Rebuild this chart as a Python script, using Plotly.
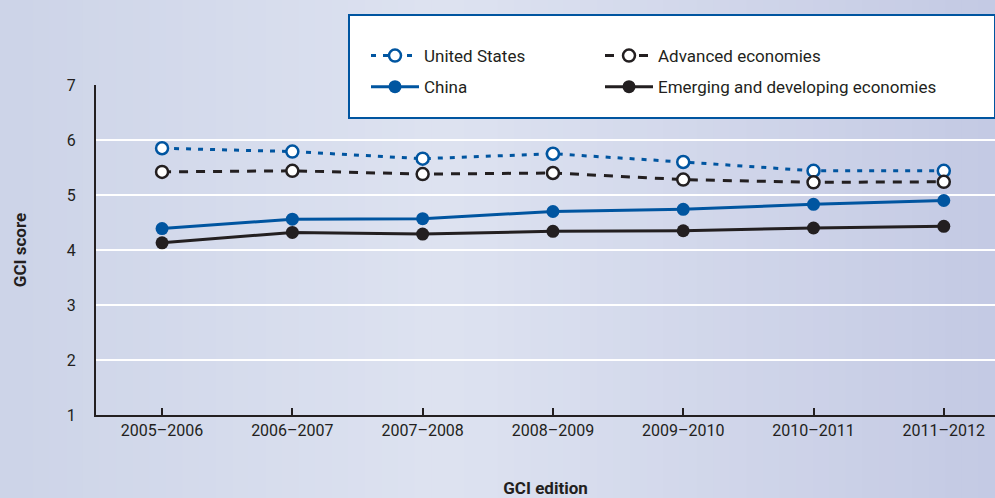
import plotly.graph_objects as go

editions = ["2005–2006", "2006–2007", "2007–2008", "2008–2009",
            "2009–2010", "2010–2011", "2011–2012"]
united_states = [5.85, 5.79, 5.66, 5.75, 5.60, 5.44, 5.44]
advanced = [5.42, 5.44, 5.38, 5.40, 5.28, 5.23, 5.24]
china = [4.39, 4.56, 4.57, 4.70, 4.74, 4.83, 4.90]
emerging = [4.13, 4.32, 4.29, 4.34, 4.35, 4.40, 4.43]
y_ticks = [1, 2, 3, 4, 5, 6, 7]

BLUE = "#0055a0"
BLACK = "#231f20"
FONT = "Liberation Sans Narrow, Roboto, Arial, sans-serif"

fig = go.Figure()


def add_line(name, values, color, dash, hollow, legend, group):
    fig.add_trace(go.Scatter(
        x=editions, y=values, name=name, mode="lines+markers",
        line=dict(color=color, width=3, dash=dash),
        marker=dict(size=12 if hollow else 13,
                    color="white" if hollow else color,
                    line=dict(color=color, width=2.5 if hollow else 0)),
        legend=legend, legendgroup=group,
    ))


add_line("United States", united_states, BLUE, "5px,7px", True, "legend", "a")
add_line("China", china, BLUE, "solid", False, "legend", "b")
add_line("Advanced economies", advanced, BLACK, "9px,8px", True, "legend2", "c")
add_line("Emerging and developing economies", emerging, BLACK, "solid", False,
         "legend2", "d")

# soft horizontal background gradient
n = 60
left, mid, right = (205, 212, 232), (222, 227, 241), (196, 202, 228)
shapes = []
for i in range(n):
    t = (i + 0.5) / n
    if t < 0.45:
        f = t / 0.45
        c = [a + (b - a) * f for a, b in zip(left, mid)]
    else:
        f = (t - 0.45) / 0.55
        c = [a + (b - a) * f for a, b in zip(mid, right)]
    shapes.append(dict(type="rect", xref="paper", yref="paper", layer="below",
                       x0=-96 / 899 + i / n * 995 / 899,
                       x1=-96 / 899 + (i + 1) / n * 995 / 899 + 0.002,
                       y0=-83 / 330, y1=498 / 330 - 83 / 330,
                       line=dict(width=0),
                       fillcolor="rgb(%d,%d,%d)" % tuple(int(v) for v in c)))

# legend box
shapes.append(dict(type="rect", xref="paper", yref="paper", layer="above",
                   x0=(349 - 96) / 899, x1=1.0, y0=0.9, y1=(415 - 15) / 330,
                   fillcolor="white", line=dict(color=BLUE, width=2)))

legend_common = dict(font=dict(family=FONT, size=17, color=BLACK),
                     bgcolor="rgba(0,0,0,0)", itemwidth=48,
                     tracegroupgap=6, yanchor="top", xanchor="left")

fig.update_layout(
    width=995, height=498,
    margin=dict(l=96, r=0, t=85, b=83),
    paper_bgcolor="#d6dcee", plot_bgcolor="rgba(0,0,0,0)",
    font=dict(family=FONT, size=16, color=BLACK),
    shapes=shapes,
    legend=dict(x=(366 - 96) / 899, y=(415 - 38) / 330, **legend_common),
    legend2=dict(x=(600 - 96) / 899, y=(415 - 38) / 330, **legend_common),
    xaxis=dict(
        type="category", range=[-0.507, 6.393],
        showgrid=False, showline=True, linecolor=BLACK, linewidth=2,
        ticks="inside", ticklen=7, tickwidth=2, tickcolor=BLACK,
        tickfont=dict(size=16),
        title=dict(text="<b>GCI edition</b>", font=dict(size=17), standoff=43),
    ),
    yaxis=dict(
        range=[1, 7], tickvals=y_ticks, showgrid=True,
        gridcolor="white", gridwidth=2, zeroline=False,
        showline=True, linecolor=BLACK, linewidth=2,
        ticks="", tickfont=dict(size=16), ticklabelstandoff=15,
        title=dict(text="<b>GCI score</b>", font=dict(size=17), standoff=36),
    ),
)

fig.write_html("out.html", config={"displayModeBar": False},
               post_script="document.body.style.margin='0';"
                           "document.body.style.overflow='hidden';")
